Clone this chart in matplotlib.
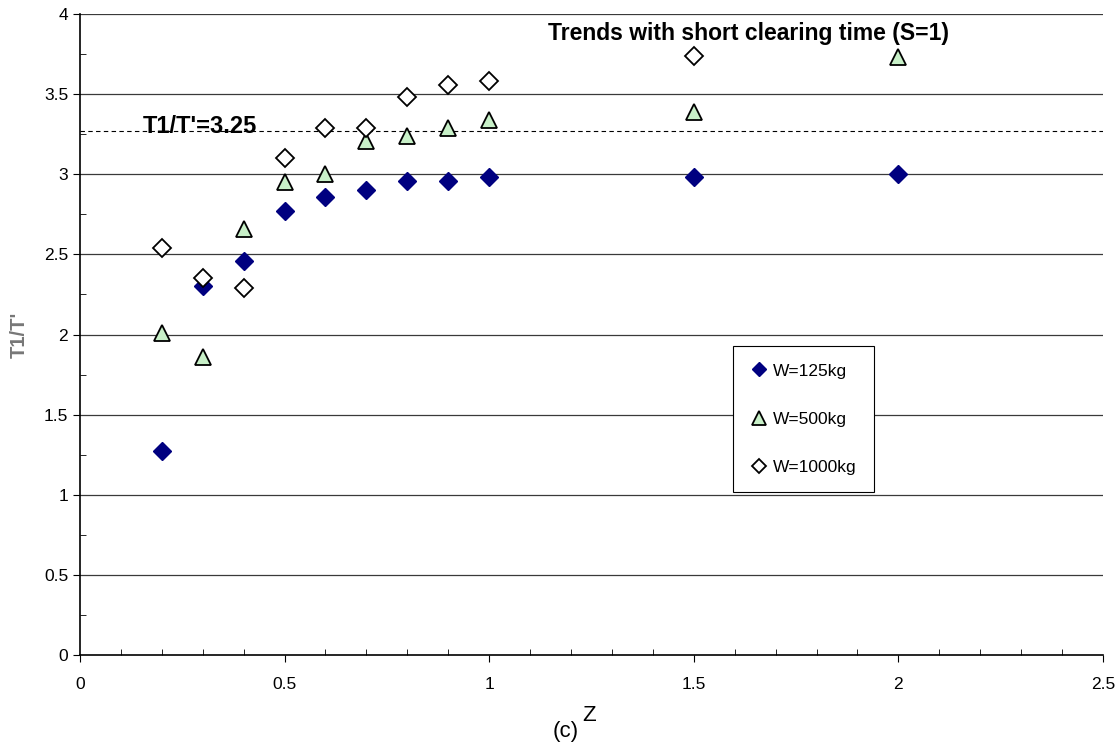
import matplotlib
matplotlib.use("Agg")
import matplotlib.pyplot as plt
from matplotlib.ticker import MultipleLocator

plt.rcParams['font.family'] = ['Liberation Sans', 'DejaVu Sans']

z = [0.2, 0.3, 0.4, 0.5, 0.6, 0.7, 0.8, 0.9, 1.0, 1.5, 2.0]
w125 = [1.27, 2.30, 2.46, 2.77, 2.86, 2.90, 2.96, 2.96, 2.98, 2.98, 3.00]
w500 = [2.01, 1.86, 2.66, 2.95, 3.00, 3.21, 3.24, 3.29, 3.34, 3.39, 3.73]
z1000 = [0.2, 0.3, 0.4, 0.5, 0.6, 0.7, 0.8, 0.9, 1.0, 1.5]
w1000 = [2.54, 2.35, 2.29, 3.10, 3.29, 3.29, 3.48, 3.56, 3.58, 3.74]
ref_level = 3.27
xticks = [0, 0.5, 1, 1.5, 2, 2.5]
yticks = [0, 0.5, 1, 1.5, 2, 2.5, 3, 3.5, 4]

fig = plt.figure(figsize=(11.2, 7.45), dpi=100)
ax = fig.add_axes([0.0714, 0.1208, 0.9134, 0.8604])

for yv in yticks[1:]:
    ax.axhline(yv, color='#3a3a3a', lw=0.9, zorder=1)
ax.axhline(ref_level, color='black', lw=0.8, ls=(0, (4, 3)), zorder=1)

ax.plot(z, w125, 'D', color='#000080', ms=9.5, mec='#000080', ls='none',
        label='W=125kg', zorder=3)
ax.plot(z, w500, '^', color='#c8f0c8', ms=12, mec='black', mew=1.3, ls='none',
        label='W=500kg', zorder=3)
ax.plot(z1000, w1000, 'D', color='white', ms=9, mec='black', mew=1.3, ls='none',
        label='W=1000kg', zorder=4)

ax.set_xlim(0, 2.5)
ax.set_ylim(0, 4)
ax.set_xticks(xticks)
ax.set_xticklabels([f'{v:g}' for v in xticks])
ax.set_yticks(yticks)
ax.set_yticklabels([f'{v:g}' for v in yticks])
ax.xaxis.set_minor_locator(MultipleLocator(0.1))
ax.yaxis.set_minor_locator(MultipleLocator(0.25))
ax.tick_params(which='major', direction='out', length=5, labelsize=12.5)
ax.tick_params(axis='x', which='major', pad=11)
ax.tick_params(axis='y', which='major', pad=3.5)
ax.tick_params(which='minor', direction='in', length=4)

ax.spines['top'].set_visible(False)
ax.spines['right'].set_visible(False)
ax.spines['left'].set_linewidth(1.2)
ax.spines['bottom'].set_linewidth(1.2)

ax.text(0.154, 3.255, "T1/T'=3.25", fontsize=17, fontweight='bold', va='baseline', ha='left')
ax.text(1.144, 3.88, 'Trends with short clearing time (S=1)', fontsize=16.5,
        fontweight='bold', va='center', ha='left')

fig.text(0.017, 0.55, "T1/T'", rotation=90, color='#777777', fontsize=14.5,
         fontweight='bold', va='center', ha='center')
fig.text(0.505, 0.0175, '(c)', fontsize=16, ha='center', va='center')
fig.text(0.526, 0.040, 'Z', fontsize=16, ha='center', va='center')

leg = ax.legend(loc='upper left', bbox_to_anchor=(0.638, 0.482), frameon=True,
                fancybox=False, edgecolor='black', framealpha=1, fontsize=12.5,
                labelspacing=1.9, handletextpad=0.3, handlelength=1.0,
                borderpad=1.0, borderaxespad=0, markerscale=0.8)
leg.get_frame().set_linewidth(0.8)

fig.savefig('out.png', dpi=100)
